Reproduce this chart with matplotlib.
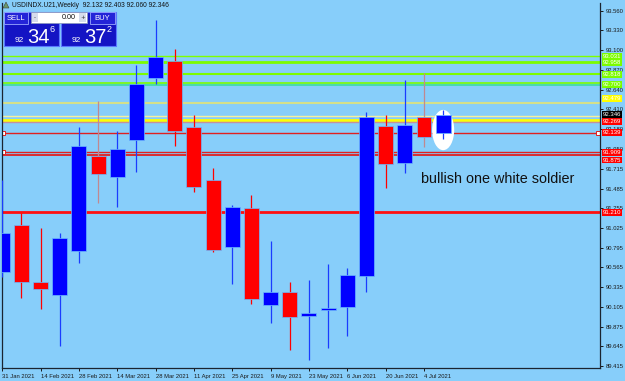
import numpy as np
import matplotlib.pyplot as plt
from matplotlib.patches import Rectangle, Ellipse

# %% Data (weekly USDINDX.U21 candles)
date_labels = ['31 Jan 2021', '14 Feb 2021', '28 Feb 2021', '14 Mar 2021', '28 Mar 2021',
               '11 Apr 2021', '25 Apr 2021', '9 May 2021', '23 May 2021', '6 Jun 2021',
               '20 Jun 2021', '4 Jul 2021']
opens = [90.512, 91.060, 90.395, 90.243, 90.760, 91.868, 91.623, 92.052, 92.771, 92.973,
         92.207, 91.585, 90.807, 91.255, 90.127, 90.278, 89.998, 90.068, 90.107, 90.469,
         92.215, 91.780, 92.316, 92.132]
highs = [91.585, 91.203, 91.028, 90.967, 92.207, 92.510, 92.160, 92.927, 93.452, 93.113,
         92.343, 91.725, 91.293, 91.406, 90.873, 90.395, 90.418, 90.605, 90.555, 92.375,
         92.343, 92.752, 92.830, 92.403]
lows = [90.453, 90.208, 90.080, 89.648, 90.617, 91.317, 91.273, 91.675, 92.701, 91.985,
        91.448, 90.748, 90.368, 90.142, 89.920, 89.602, 89.485, 89.622, 89.765, 90.275,
        91.488, 91.663, 91.966, 92.060]
closes = [90.967, 90.399, 90.317, 90.912, 91.985, 91.655, 91.947, 92.705, 93.016, 92.160,
          91.507, 90.768, 91.270, 90.197, 90.275, 89.990, 90.037, 90.095, 90.473, 92.316,
          91.775, 92.230, 92.090, 92.346]

# horizontal levels drawn on the chart
level_prices = [93.031, 92.958, 92.818, 92.711, 92.693, 92.479, 92.332, 92.285, 92.265,
                92.139, 91.909, 91.875, 91.210]
level_colors = ['#7fff00', '#7cfc00', '#7cfc00', '#7cfc00', '#3cdca0', '#d4e08a', '#f4f0a0',
                '#ffff00', '#c89098', '#e02020', '#e02020', '#e02020', '#ff1010']
level_widths = [1.0, 2.0, 1.5, 1.2, 1.2, 1.5, 1.0, 2.0, 1.0, 1.0, 1.0, 1.3, 2.0]

# price tags on the right scale
tag_prices = [93.031, 92.958, 92.818, 92.700, 92.479, 92.346, 92.269, 92.139, 91.909, 91.875, 91.210]
tag_colors = ['#7cfc00', '#7cfc00', '#7cfc00', '#7cfc00', '#ffff00', '#000000', '#ff0000',
              '#ff0000', '#ff0000', '#ff0000', '#ff0000']

y_ticks = [93.560, 93.330, 93.100, 92.870, 92.640, 92.410, 92.180, 91.950, 91.715, 91.485,
           91.255, 91.025, 90.795, 90.565, 90.335, 90.105, 89.875, 89.645, 89.415]

bid, ask = 92.346, 92.372
note = 'bullish one white soldier'

# %% Plot
bg = '#87cefa'
fig = plt.figure(figsize=(6.25, 3.81), dpi=100, facecolor=bg)
ax = fig.add_axes([2/625, 13/381, 598/625, 365/381], facecolor=bg)

n = len(opens)
x = np.arange(n)
o = np.array(opens); c = np.array(closes)
up = c >= o
body_col = np.where(up, '#0000ff', '#ff0000')
wick_col = np.where(up, '#1a3cff', '#ff0000').astype(object)
wick_col[5] = '#c08890'   # these two wicks look greyish on the screenshot
wick_col[22] = '#c08890'

# levels first (behind candles)
for p, col, lw in zip(level_prices, level_colors, level_widths):
    ax.axhline(p, color=col, lw=lw, zorder=1)
# little anchor squares of the red trendlines
ax.plot([0.05, 0.05], [92.139, 91.909], ls='none', marker='s', ms=2.5, mfc='white', mec='#e02020', mew=0.7, zorder=2)
ax.plot([31.05], [92.139], ls='none', marker='s', ms=2.5, mfc='white', mec='#e02020', mew=0.7, zorder=2)

# white ellipse around last candle
ax.add_patch(Ellipse((n - 1, 92.168), 1.15, 0.47, fc='white', ec='none', zorder=2))

ax.vlines(x, lows, highs, colors=list(wick_col), lw=0.9, zorder=3)
ax.bar(x, np.maximum(np.abs(c - o), 0.02), bottom=np.minimum(o, c), width=0.78,
       color=body_col, edgecolor='#6ab8ff', linewidth=0.5, zorder=4)

ax.text(21.85, 91.597, note, fontsize=10.4, family='Liberation Sans', color='#111111',
        va='center', ha='left', zorder=5)

ax.set_xlim(-0.01, 31.18)
ax.set_ylim(89.392, 93.650)

ax.yaxis.tick_right()
ax.set_yticks(y_ticks)
ax.set_yticklabels([f'{t:.3f}' for t in y_ticks])
ax.set_xticks(np.arange(0, n, 2))
ax.set_xticklabels(date_labels, ha='left')
ax.tick_params(axis='both', length=2.5, width=0.7, colors='#1a1a1a', labelsize=4.2, pad=1.5)
for lab in ax.get_xticklabels() + ax.get_yticklabels():
    lab.set_family('Liberation Sans')
for s in ['left', 'right', 'bottom']:
    ax.spines[s].set_color('#1a2430')
    ax.spines[s].set_linewidth(0.9)
ax.spines['top'].set_visible(False)

# price tags (a few nudged apart like the terminal does)
tag_nudge = {92.479: 3.5, 91.875: -3.5}
for p, col in zip(tag_prices, tag_colors):
    ax.annotate(f'{p:.3f}', xy=(1.0, p), xycoords=('axes fraction', 'data'),
                xytext=(2, tag_nudge.get(p, 0)), textcoords='offset points', va='center', ha='left',
                fontsize=4.3, family='Liberation Sans', color='white',
                bbox=dict(boxstyle='square,pad=0.15', fc=col, ec='none'), zorder=6,
                annotation_clip=False)

# %% one-click trading panel and header (pixel coords overlay)
ov = fig.add_axes([0, 0, 1, 1])
ov.set_xlim(0, 625); ov.set_ylim(381, 0); ov.axis('off'); ov.patch.set_alpha(0)

ov.add_patch(plt.Polygon([[3, 8], [6, 2], [9, 8]], closed=True, fc='#6a9a6a', ec='#404040', lw=0.4))
ov.text(12, 5.5, f'USDINDX.U21,Weekly  {opens[-1]:.3f} {highs[-1]:.3f} {lows[-1]:.3f} {closes[-1]:.3f}',
        fontsize=4.8, family='Liberation Sans', va='center', ha='left', color='#111111')

for x0 in [4, 61]:
    ov.add_patch(Rectangle((x0, 12), 55, 34, fc='#1414c4', ec='#5a78ff', lw=0.8))
ov.add_patch(Rectangle((4, 12), 24, 12, fc='#2424d8', ec='#9aa8ff', lw=0.6))
ov.add_patch(Rectangle((90, 12), 25, 12, fc='#2424d8', ec='#9aa8ff', lw=0.6))
ov.text(16, 18, 'SELL', color='white', fontsize=5.5, ha='center', va='center', family='Liberation Sans')
ov.text(102.5, 18, 'BUY', color='white', fontsize=5.5, ha='center', va='center', family='Liberation Sans')
ov.add_patch(Rectangle((31, 12), 56, 11, fc='white', ec='#8a96c0', lw=0.6))
ov.add_patch(Rectangle((32, 13), 6, 9, fc='#d6dcec', ec='none'))
ov.add_patch(Rectangle((79, 13), 7, 9, fc='#d6dcec', ec='none'))
ov.text(35, 17.5, '-', fontsize=4, ha='center', va='center', color='#333333')
ov.text(82.5, 17.5, '+', fontsize=4, ha='center', va='center', color='#333333')
ov.text(76, 17.5, '0.00', fontsize=5.2, ha='right', va='center', color='#111111', family='Liberation Sans')

for x0, price in [(4, bid), (61, ask)]:
    s = f'{price:.3f}'
    ov.text(x0 + 20, 42, s[:2], color='white', fontsize=6, ha='right', va='baseline', family='Liberation Sans')
    ov.text(x0 + 23, 43, s[3:5], color='white', fontsize=14.5, ha='left', va='baseline', family='Liberation Sans')
    ov.text(x0 + 46, 32, s[5], color='white', fontsize=6.5, ha='left', va='baseline', family='Liberation Sans')

fig.savefig('out.png', dpi=100, facecolor=bg)
